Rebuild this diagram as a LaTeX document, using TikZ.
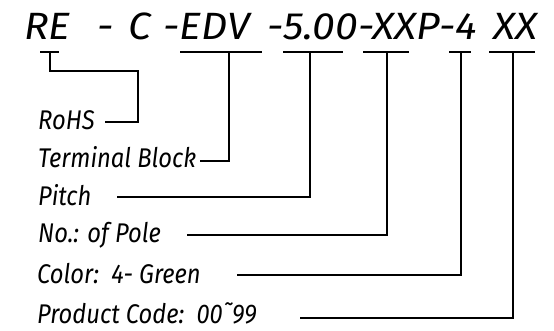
\documentclass[tikz,border=0pt]{standalone}
\usepackage{fontspec}
\setmainfont{Fira Sans}
\newfontfamily\ttlfont{Fira Sans}[FakeStretch=1.08]
\newfontfamily\lblfont{Fira Sans}[FakeStretch=0.88]
\begin{document}
\begin{tikzpicture}[x=1pt,y=-1pt,
  ttl/.style={inner sep=0pt,anchor=base west,font=\ttlfont\fontsize{38}{42}\selectfont\itshape},
  lbl/.style={inner sep=0pt,anchor=base west,font=\lblfont\fontsize{27}{30}\selectfont\itshape},
  ln/.style={line width=1.3pt,line cap=butt,line join=miter}]
\useasboundingbox (0,0) rectangle (554,330);
% title pieces
\node[ttl] (t1) at (24,39) {RE};
\node[ttl] (t2) at (97,39) {-};
\node[ttl] (t3) at (128,39) {C};
\node[ttl] (t4) at (163,39) {-EDV};
\node[ttl] (t5) at (267,39) {-5.00-XXP-4};
\node[ttl] (t6) at (493,39) {XX};
% labels
\node[lbl] (l1) at (38,129) {RoHS};
\node[lbl] (l2) at (38,167) {Terminal Block};
\node[lbl] (l3) at (38,205) {Pitch};
\node[lbl] (l4) at (38,242) {No.: of Pole};
\node[lbl] (l5) at (37,283) {Color:\ \ 4- Green};
\node[lbl] (l6) at (37,323) {Product Code:\ \ 00˜99};
% underline ends and taps
\coordinate (u1a) at (40,52);  \coordinate (u1b) at (59,52);  \coordinate (u1) at (50,52);
\coordinate (u2a) at (180,52); \coordinate (u2b) at (262,52); \coordinate (u2) at (229,52);
\coordinate (u3a) at (283,52); \coordinate (u3b) at (343,52); \coordinate (u3) at (310,52);
\coordinate (u4a) at (363,52); \coordinate (u4b) at (409,52); \coordinate (u4) at (387,52);
\coordinate (u5a) at (449,52); \coordinate (u5b) at (471,52); \coordinate (u5) at (461,52);
\coordinate (u6a) at (489,52); \coordinate (u6b) at (535,52); \coordinate (u6) at (513,52);
% label line ends
\coordinate (e1) at (105,122);
\coordinate (e2) at (200,161);
\coordinate (e3) at (117,197);
\coordinate (e4) at (187,235);
\coordinate (e5) at (237,275);
\coordinate (e6) at (300,318);
\coordinate (k1) at (50,71);
\coordinate (k2) at (138,71);
% underlines
\foreach \i in {1,...,6} {\draw[ln] (u\i a) -- (u\i b);}
% connectors
\draw[ln] (u1) -- (k1) -- (k2) |- (e1);
\draw[ln] (u2) |- (e2);
\draw[ln] (u3) |- (e3);
\draw[ln] (u4) |- (e4);
\draw[ln] (u5) |- (e5);
\draw[ln] (u6) |- (e6);
\end{tikzpicture}
\end{document}
